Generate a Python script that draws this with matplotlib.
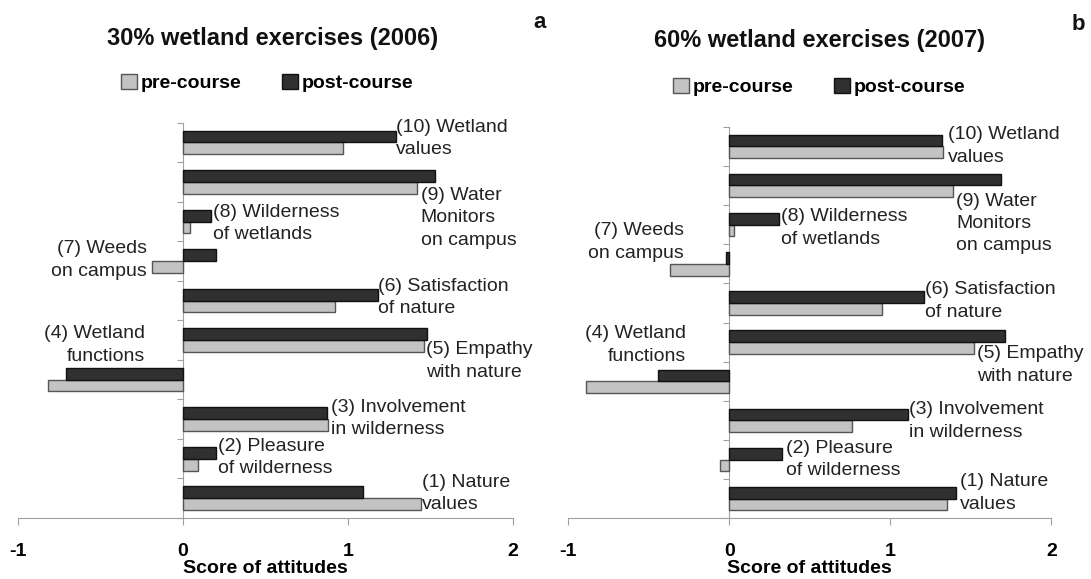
import matplotlib.pyplot as plt
import numpy as np

plt.rcParams['font.family'] = ['Liberation Sans', 'DejaVu Sans']

# attitude items, (1) at the bottom up to (10) at the top
items = ['(1) Nature\nvalues', '(2) Pleasure\nof wilderness', '(3) Involvement\nin wilderness',
         '(4) Wetland\nfunctions', '(5) Empathy\nwith nature', '(6) Satisfaction\nof nature',
         '(7) Weeds\non campus', '(8) Wilderness\nof wetlands', '(9) Water\nMonitors\non campus',
         '(10) Wetland\nvalues']

pre_2006 = [1.44, 0.09, 0.88, -0.82, 1.46, 0.92, -0.19, 0.04, 1.42, 0.97]
post_2006 = [1.09, 0.20, 0.87, -0.71, 1.48, 1.18, 0.20, 0.17, 1.53, 1.29]
pre_2007 = [1.35, -0.06, 0.76, -0.89, 1.52, 0.95, -0.37, 0.03, 1.39, 1.33]
post_2007 = [1.41, 0.33, 1.11, -0.44, 1.71, 1.21, -0.02, 0.31, 1.69, 1.32]

titles = ['30% wetland exercises (2006)', '60% wetland exercises (2007)']

# where each item label sits (x, y, alignment)
label_pos_2006 = [(1.45, 1.12, 'left'), (0.21, 2.03, 'left'), (0.90, 3.02, 'left'),
                  (-0.23, 4.88, 'right'), (1.47, 4.47, 'left'), (1.18, 6.08, 'left'),
                  (-0.22, 7.03, 'right'), (0.18, 7.95, 'left'), (1.44, 8.09, 'left'),
                  (1.29, 10.1, 'left')]
label_pos_2007 = [(1.43, 1.15, 'left'), (0.35, 2.0, 'left'), (1.115, 2.98, 'left'),
                  (-0.27, 4.93, 'right'), (1.54, 4.41, 'left'), (1.217, 6.05, 'left'),
                  (-0.28, 7.56, 'right'), (0.32, 7.91, 'left'), (1.41, 8.03, 'left'),
                  (1.36, 10.01, 'left')]

light = '#c3c3c3'
dark = '#303030'
axis_grey = '#a0a0a0'

fig = plt.figure(figsize=(10.91, 5.79), dpi=100)
ax1 = fig.add_axes([0.0165, 0.1054, 0.4537, 0.6827])
ax2 = fig.add_axes([0.5209, 0.1048, 0.4427, 0.6763])


def draw_panel(ax, pre, post, label_pos, title, letter, tx, ty, lx, ly):
    y = np.arange(1, len(items) + 1)
    h = 0.3
    b_pre = ax.barh(y - h / 2, pre, h, color=light, edgecolor='#555555', linewidth=1, zorder=3)
    b_post = ax.barh(y + h / 2, post, h, color=dark, edgecolor='#111111', linewidth=1, zorder=3)

    for txt, (x, yy, ha) in zip(items, label_pos):
        ax.text(x, yy, txt, ha=ha, va='center', fontsize=14, color='#222222', linespacing=1.42)

    ax.set_xlim(-1, 2)
    ax.set_ylim(0.5, 10.5)
    for s in ['top', 'right']:
        ax.spines[s].set_visible(False)
    ax.spines['left'].set_position(('data', 0))
    ax.spines['left'].set_color(axis_grey)
    ax.spines['bottom'].set_color(axis_grey)
    ax.set_yticks(np.arange(0.5, 11, 1.0))
    ax.set_yticklabels([])
    ax.tick_params(axis='y', direction='out', length=4, color=axis_grey)
    ax.set_xticks([-1, 0, 1, 2])
    ax.set_xticklabels(['-1', '0', '1', '2'], fontsize=14, fontweight='bold')
    ax.tick_params(axis='x', direction='out', length=5, color=axis_grey, pad=13)
    ax.set_xlabel('Score of attitudes', fontsize=14, fontweight='bold', labelpad=0)

    fig.text(tx, ty, title, ha='center', va='center', fontsize=17, fontweight='bold', color='#111111')
    fig.text(lx, ly, letter, ha='center', va='center', fontsize=16, fontweight='bold', color='#111111')
    return b_pre, b_post


bars1 = draw_panel(ax1, pre_2006, post_2006, label_pos_2006, titles[0], 'a',
                   273 / 1091, 1 - 38 / 579, 540 / 1091, 1 - 23 / 579)
bars2 = draw_panel(ax2, pre_2007, post_2007, label_pos_2007, titles[1], 'b',
                   819.5 / 1091, 1 - 41 / 579, 1078 / 1091, 1 - 25 / 579)

for bars, cx, cy in [(bars1, 267 / 1091, 1 - 83 / 579), (bars2, 819.5 / 1091, 1 - 87 / 579)]:
    leg = fig.legend(bars, ['pre-course', 'post-course'], loc='center', bbox_to_anchor=(cx, cy),
                     ncol=2, frameon=False, handlelength=0.8, handleheight=0.8,
                     handletextpad=0.2, columnspacing=2.1,
                     prop={'size': 14, 'weight': 'bold'})

fig.savefig('out.png', dpi=100)
